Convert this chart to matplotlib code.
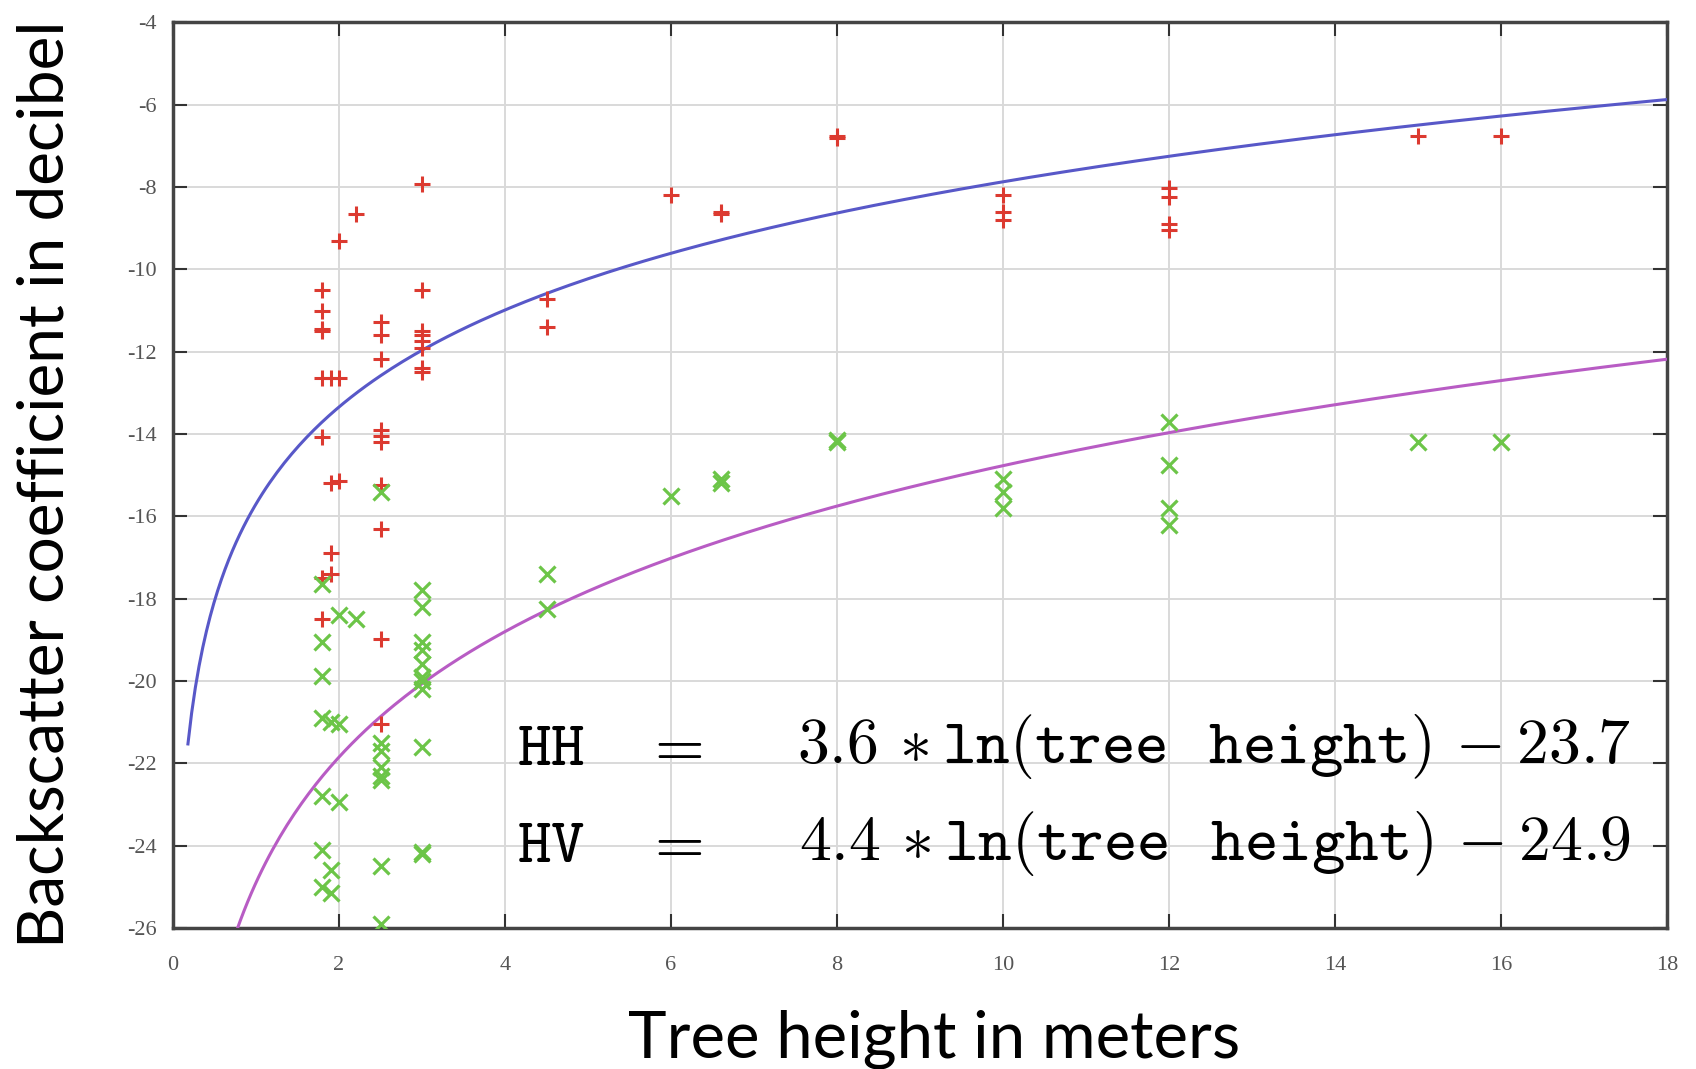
import numpy as np
import matplotlib
matplotlib.use("Agg")
import matplotlib.pyplot as plt

# --------- dados ---------
hh_x = [1.8, 1.8, 1.8, 1.8, 1.8, 1.8, 1.8, 1.8,
        1.9, 1.9, 1.9, 1.9,
        2.0, 2.0, 2.0,
        2.2,
        2.5, 2.5, 2.5, 2.5, 2.5, 2.5, 2.5, 2.5, 2.5, 2.5,
        3.0, 3.0, 3.0, 3.0, 3.0, 3.0, 3.0, 3.0,
        4.5, 4.5, 6.0, 6.6, 6.6, 8.0, 8.0,
        10, 10, 10, 12, 12, 12, 12, 15, 16]
hh_y = [-10.5, -11.0, -11.5, -11.45, -12.65, -14.07, -17.5, -18.5,
        -12.65, -15.2, -16.9, -17.4,
        -12.65, -9.3, -15.13,
        -8.65,
        -11.28, -11.6, -12.17, -13.9, -14.05, -14.2, -15.25, -16.3, -18.98, -21.05,
        -7.92, -10.5, -11.5, -11.6, -11.75, -11.9, -12.4, -12.5,
        -10.73, -11.4, -8.2, -8.6, -8.65, -6.75, -6.8,
        -8.2, -8.6, -8.8, -8.02, -8.25, -8.9, -9.05, -6.75, -6.75]

hv_x = [1.8, 1.8, 1.8, 1.8, 1.8, 1.8, 1.8,
        1.9, 1.9, 1.9,
        2.0, 2.0, 2.0,
        2.2,
        2.5, 2.5, 2.5, 2.5, 2.5, 2.5, 2.5, 2.5,
        3.0, 3.0, 3.0, 3.0, 3.0, 3.0, 3.0, 3.0, 3.0, 3.0, 3.0,
        4.5, 4.5, 6.0, 6.6, 6.6, 8.0, 8.0,
        10, 10, 10, 12, 12, 12, 12, 15, 16]
hv_y = [-17.65, -19.05, -19.87, -20.9, -22.8, -24.1, -25.0,
        -21.0, -24.6, -25.15,
        -18.4, -21.05, -22.95,
        -18.5,
        -15.4, -21.5, -21.7, -22.1, -22.3, -22.4, -24.5, -25.9,
        -17.8, -18.2, -19.05, -19.25, -19.6, -19.9, -20.0, -20.2, -21.6, -24.15, -24.2,
        -17.4, -18.25, -15.5, -15.1, -15.2, -14.15, -14.2,
        -15.1, -15.4, -15.8, -13.7, -14.76, -15.8, -16.2, -14.2, -14.2]

# coeficientes das curvas de ajuste (a*ln(x) + b) e faixa desenhada
hh_fit = (3.4, -15.7)
hh_range = (0.18, 18)
hv_fit = (4.4, -24.9)
hv_range = (0.77, 18)

x_ticks = [0, 2, 4, 6, 8, 10, 12, 14, 16, 18]
y_ticks = [-4, -6, -8, -10, -12, -14, -16, -18, -20, -22, -24, -26]

plt.rcParams["mathtext.fontset"] = "cm"
plt.rcParams["axes.unicode_minus"] = False

fig = plt.figure(figsize=(16.96, 10.69), dpi=100)
ax = fig.add_axes([0.102, 0.132, 0.881, 0.847])

ax.grid(True, color="#d9d9d9", linewidth=1.4)
ax.set_axisbelow(True)

# curvas
a, b = hh_fit
xc = np.linspace(hh_range[0], hh_range[1], 400)
ax.plot(xc, a * np.log(xc) + b, color="#5858c8", linewidth=2.2, zorder=3)
a, b = hv_fit
xc = np.linspace(hv_range[0], hv_range[1], 400)
ax.plot(xc, a * np.log(xc) + b, color="#b85cc4", linewidth=2.2, zorder=3)

# pontos
ax.plot(hh_x, hh_y, linestyle="none", marker="+", markersize=12,
        markeredgewidth=2.2, color="#dc3a30", zorder=4)
ax.plot(hv_x, hv_y, linestyle="none", marker="x", markersize=11,
        markeredgewidth=2.3, color="#6cc548", zorder=4)

ax.set_xlim(0, 18)
ax.set_ylim(-26, -4)
ax.set_xticks(x_ticks)
ax.set_yticks(y_ticks)
ax.tick_params(direction="in", length=10, width=1.5, color="#333333",
               top=True, right=True, labelsize=16, labelcolor="#555555")
ax.tick_params(axis="x", pad=20)
ax.tick_params(axis="y", pad=12)
for lab in ax.get_xticklabels() + ax.get_yticklabels():
    lab.set_family("Liberation Serif")

for sp in ax.spines.values():
    sp.set_color("#444444")
    sp.set_linewidth(2.5)

ax.set_xlabel("Tree height in meters", fontsize=47, family="Lato")
ax.set_ylabel("Backscatter coefficient in decibel", fontsize=46, family="Lato")
ax.xaxis.set_label_coords(0.5095, -0.09)
ax.yaxis.set_label_coords(-0.066, 0.49)

# equações
eq_size = 46
ax.text(4.15, -21.6, r"$\mathtt{HH}$", fontsize=eq_size, va="center", ha="left")
ax.text(4.15, -23.95, r"$\mathtt{HV}$", fontsize=eq_size, va="center", ha="left")
ax.text(6.02, -21.6, r"$=$", fontsize=eq_size, va="center", ha="center")
ax.text(6.02, -23.95, r"$=$", fontsize=eq_size, va="center", ha="center")
ax.text(17.56, -21.6, r"$3.6\,*\mathtt{ln(tree\;\;\,height)}\,-23.7$",
        fontsize=eq_size, va="center", ha="right")
ax.text(17.56, -23.95, r"$4.4\,*\mathtt{ln(tree\;\;\,height)}\,-24.9$",
        fontsize=eq_size, va="center", ha="right")

plt.savefig("out.png", dpi=100)
